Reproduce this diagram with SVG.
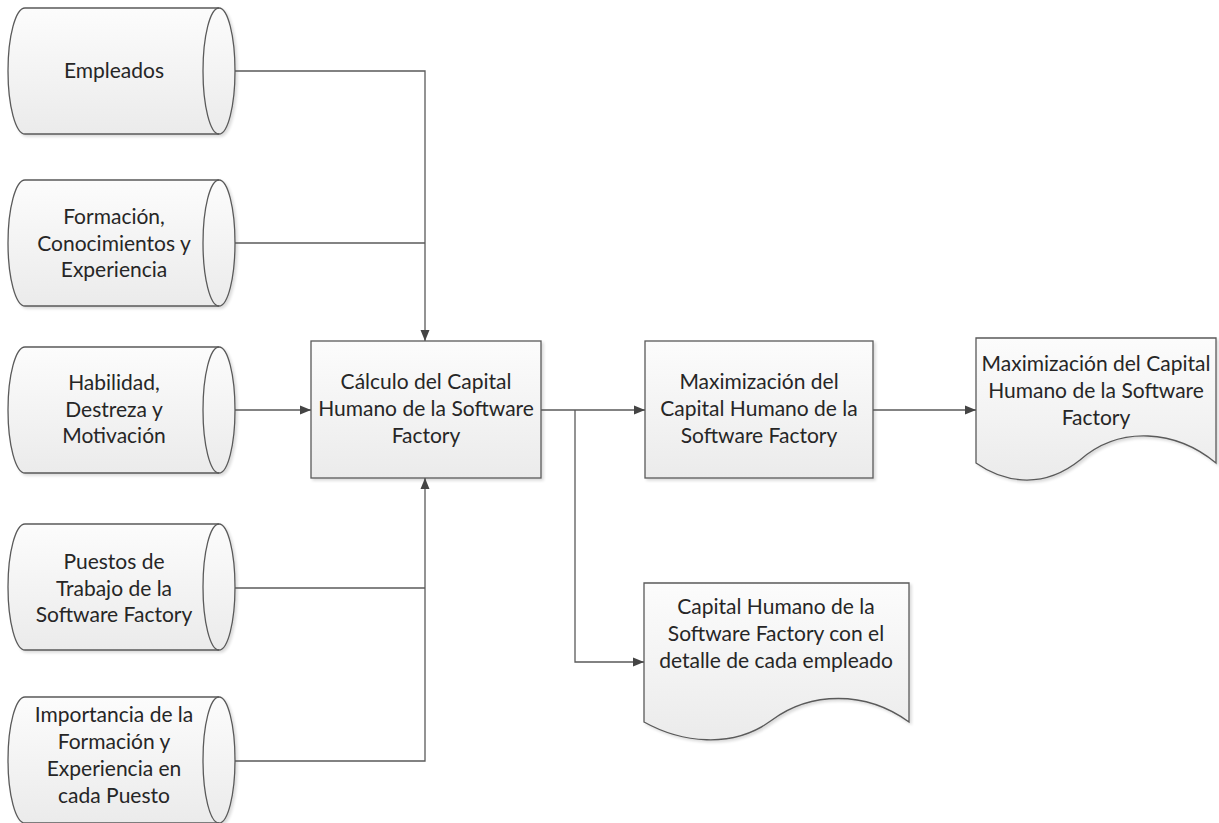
<svg xmlns="http://www.w3.org/2000/svg" width="1219" height="823" viewBox="0 0 1219 823">
  <defs>
    <linearGradient id="fillGrad" x1="0" y1="0" x2="0" y2="1">
      <stop offset="0" stop-color="#fcfcfc"/>
      <stop offset="1" stop-color="#ebebeb"/>
    </linearGradient>
    <filter id="shadow" x="-5%" y="-5%" width="115%" height="115%">
      <feGaussianBlur in="SourceAlpha" stdDeviation="1.5"/>
      <feOffset dx="1.5" dy="2" result="b"/>
      <feComponentTransfer><feFuncA type="linear" slope="0.15"/></feComponentTransfer>
      <feMerge><feMergeNode/><feMergeNode in="SourceGraphic"/></feMerge>
    </filter>
    <marker id="arrow" viewBox="0 0 11 10" refX="11" refY="5" markerWidth="11" markerHeight="10" markerUnits="userSpaceOnUse" orient="auto">
      <path d="M0,0.5 L11,5 L0,9.5 Z" fill="#444"/>
    </marker>
  </defs>
  <style>
    .shape { fill: url(#fillGrad); stroke: #5a5a5a; stroke-width: 1.3; filter: url(#shadow); }
    .edge { fill: none; stroke: #5a5a5a; stroke-width: 1.3; }
    .inner { fill: none; stroke: #5a5a5a; stroke-width: 1.3; }
    .label { font-family: Lato, "Liberation Sans", sans-serif; font-size: 21px; fill: #262626; text-anchor: middle; }
  </style>
  <rect width="1219" height="823" fill="#ffffff"/>

  <!-- data stores (horizontal cylinders) -->
  <g id="empleados">
    <path class="shape" d="M25,8 H219 A16,63 0 0 1 219,134 H25 A17,63 0 0 1 25,8 Z"/>
    <path class="inner" d="M219,8 A16,63 0 0 0 219,134"/>
    <text class="label" x="114" y="78">Empleados</text>
  </g>
  <g id="formacion">
    <path class="shape" d="M25,180 H219 A16,63 0 0 1 219,306 H25 A17,63 0 0 1 25,180 Z"/>
    <path class="inner" d="M219,180 A16,63 0 0 0 219,306"/>
    <text class="label" x="114" y="224">Formación,</text>
    <text class="label" x="114" y="251">Conocimientos y</text>
    <text class="label" x="114" y="277">Experiencia</text>
  </g>
  <g id="habilidad">
    <path class="shape" d="M25,347 H219 A16,63 0 0 1 219,473 H25 A17,63 0 0 1 25,347 Z"/>
    <path class="inner" d="M219,347 A16,63 0 0 0 219,473"/>
    <text class="label" x="114" y="390">Habilidad,</text>
    <text class="label" x="114" y="417">Destreza y</text>
    <text class="label" x="114" y="443">Motivación</text>
  </g>
  <g id="puestos">
    <path class="shape" d="M25,524 H219 A16,63 0 0 1 219,650 H25 A17,63 0 0 1 25,524 Z"/>
    <path class="inner" d="M219,524 A16,63 0 0 0 219,650"/>
    <text class="label" x="114" y="569">Puestos de</text>
    <text class="label" x="114" y="596">Trabajo de la</text>
    <text class="label" x="114" y="622">Software Factory</text>
  </g>
  <g id="importancia">
    <path class="shape" d="M25,697 H219 A16,63 0 0 1 219,823 H25 A17,63 0 0 1 25,697 Z"/>
    <path class="inner" d="M219,697 A16,63 0 0 0 219,823"/>
    <text class="label" x="114" y="722">Importancia de la</text>
    <text class="label" x="114" y="749">Formación y</text>
    <text class="label" x="114" y="776">Experiencia en</text>
    <text class="label" x="114" y="803">cada Puesto</text>
  </g>

  <!-- processes -->
  <g id="calculo">
    <rect class="shape" x="311" y="341" width="230" height="137"/>
    <text class="label" x="426" y="389">Cálculo del Capital</text>
    <text class="label" x="426" y="416">Humano de la Software</text>
    <text class="label" x="426" y="443">Factory</text>
  </g>
  <g id="maximizacion">
    <rect class="shape" x="645" y="341" width="228" height="137"/>
    <text class="label" x="759" y="389">Maximización del</text>
    <text class="label" x="759" y="416">Capital Humano de la</text>
    <text class="label" x="759" y="443">Software Factory</text>
  </g>

  <!-- documents -->
  <g id="doc-maximizacion">
    <path class="shape" d="M976,338 H1216 V463 C1176,430 1120,425 1080,460 C1040,492 1000,480 976,463 Z"/>
    <text class="label" x="1096" y="371">Maximización del Capital</text>
    <text class="label" x="1096" y="398">Humano de la Software</text>
    <text class="label" x="1096" y="425">Factory</text>
  </g>
  <g id="doc-detalle">
    <path class="shape" d="M644,583 H909 V722 C865,690 810,692 772,720 C732,750 680,742 644,722 Z"/>
    <text class="label" x="776" y="614">Capital Humano de la</text>
    <text class="label" x="776" y="641">Software Factory con el</text>
    <text class="label" x="776" y="668">detalle de cada empleado</text>
  </g>

  <!-- connectors -->
  <g id="connectors">
    <path class="edge" d="M235,71 H425 V341" marker-end="url(#arrow)"/>
    <path class="edge" d="M235,243 H425"/>
    <path class="edge" d="M235,410 H311" marker-end="url(#arrow)"/>
    <path class="edge" d="M235,588 H425"/>
    <path class="edge" d="M235,761 H425 V478" marker-end="url(#arrow)"/>
    <path class="edge" d="M541,410 H645" marker-end="url(#arrow)"/>
    <path class="edge" d="M575,410 V662 H644" marker-end="url(#arrow)"/>
    <path class="edge" d="M873,410 H976" marker-end="url(#arrow)"/>
  </g>
</svg>
